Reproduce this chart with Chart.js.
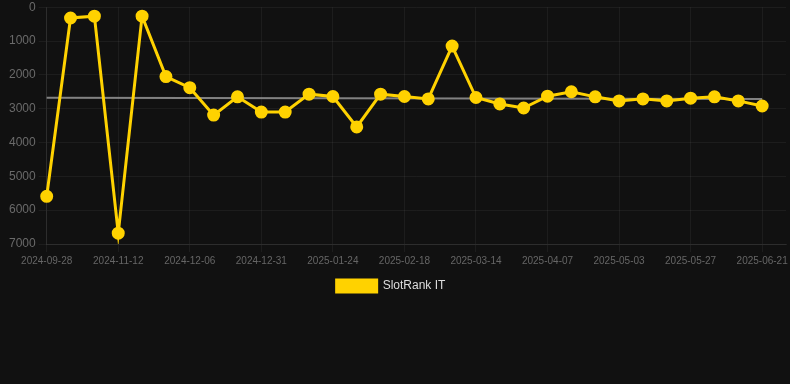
<!DOCTYPE html>
<html>
<head>
<meta charset="utf-8">
<script src="https://cdn.jsdelivr.net/npm/chart.js@4/dist/chart.umd.min.js"></script>
<style>
  html, body { margin: 0; padding: 0; background: #111111; overflow: hidden; }
  #wrap { width: 794px; height: 305px; position: absolute; left: 0; top: -3px; }
</style>
</head>
<body>
<div id="wrap"><canvas id="c"></canvas></div>
<script>
const dates = [
  "2024-09-28","2024-10-13","2024-10-28","2024-11-12","2024-11-20","2024-11-28",
  "2024-12-06","2024-12-14","2024-12-22","2024-12-31","2025-01-08","2025-01-16",
  "2025-01-24","2025-02-01","2025-02-09","2025-02-18","2025-02-26","2025-03-06",
  "2025-03-14","2025-03-22","2025-03-30","2025-04-07","2025-04-16","2025-04-25",
  "2025-05-03","2025-05-11","2025-05-19","2025-05-27","2025-06-04","2025-06-12",
  "2025-06-21","2025-06-29"
];
const rankIT = [
  5590, 320, 265, 6680, 265, 2050, 2380, 3190, 2650, 3100, 3100, 2570,
  2640, 3540, 2570, 2640, 2710, 1150, 2670, 2860, 2980, 2630, 2500, 2650,
  2770, 2710, 2770, 2690, 2650, 2770, 2920, null
];
const trendIT = [
  2675, null, null, null, null, null, null, null, null, null, null, null,
  null, null, null, null, null, null, null, null, null, null, null, null,
  null, null, null, null, null, null, 2710, null
];
const yTicks = [0, 1000, 2000, 3000, 4000, 5000, 6000, 7000];

Chart.defaults.font.family = "'Liberation Sans', Arial, Helvetica, sans-serif";

const legendShift = {
  id: 'legendShift',
  afterLayout(chart) {
    if (chart.legend) { chart.legend.left -= 9; chart.legend.right -= 9; }
  }
};

new Chart(document.getElementById('c'), {
  type: 'line',
  plugins: [legendShift],
  data: {
    labels: dates,
    datasets: [
      {
        label: 'SlotRank IT',
        data: rankIT,
        borderColor: '#ffd200',
        backgroundColor: '#ffd200',
        borderWidth: 3,
        pointRadius: 5,
        pointHoverRadius: 5,
        pointBackgroundColor: '#ffd200',
        pointBorderColor: '#ffd200',
        tension: 0,
        order: 1
      },
      {
        label: 'trend',
        data: trendIT,
        borderColor: 'rgba(150,150,150,0.85)',
        borderWidth: 2,
        pointRadius: 0,
        spanGaps: true,
        tension: 0,
        order: 2
      }
    ]
  },
  options: {
    responsive: true,
    maintainAspectRatio: false,
    animation: false,
    layout: { padding: { top: 0, right: 0, bottom: 0, left: 6 } },
    plugins: {
      legend: {
        position: 'bottom',
        labels: {
          color: '#dddddd',
          font: { size: 12 },
          boxWidth: 40,
          boxHeight: 12,
          filter: (item) => item.text !== 'trend'
        }
      },
      tooltip: { enabled: false }
    },
    scales: {
      x: {
        grid: { color: 'rgba(255,255,255,0.05)' },
        border: { color: 'rgba(255,255,255,0.08)' },
        ticks: {
          color: '#666666',
          font: { size: 10 },
          autoSkip: false,
          maxRotation: 0,
          callback: function(v, i) { return i % 3 === 0 ? dates[i] : null; }
        }
      },
      y: {
        reverse: true,
        min: 0,
        max: 7000,
        afterBuildTicks: (axis) => { axis.ticks = yTicks.map(v => ({ value: v })); },
        grid: { color: 'rgba(255,255,255,0.05)' },
        border: { color: 'rgba(255,255,255,0.08)' },
        ticks: { color: '#6a6a6a', font: { size: 12 }, callback: (v) => String(v) }
      }
    }
  }
});
</script>
</body>
</html>
